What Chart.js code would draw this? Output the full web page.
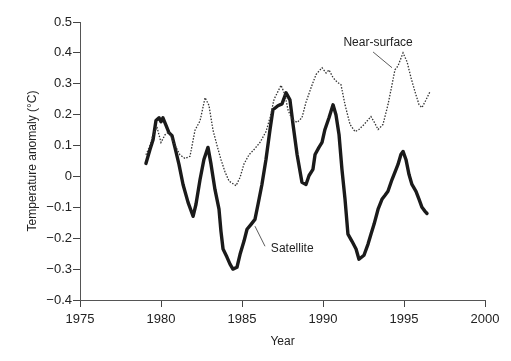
<!DOCTYPE html>
<html>
<head>
<meta charset="utf-8">
<script src="https://cdn.jsdelivr.net/npm/chart.js@4/dist/chart.umd.min.js"></script>
<style>
  html, body { margin: 0; padding: 0; background: #fff; }
  #wrap { width: 511px; height: 361px; }
</style>
</head>
<body>
<div id="wrap"><canvas id="chart"></canvas></div>
<script>
// Satellite (solid) record
const satYears = [1979.07, 1979.32, 1979.51, 1979.69, 1979.88, 1980.0, 1980.12, 1980.31, 1980.49, 1980.68,
  1980.86, 1981.11, 1981.36, 1981.67, 1981.98, 1982.16, 1982.41, 1982.65, 1982.9, 1983.09,
  1983.33, 1983.58, 1983.7, 1983.83, 1984.07, 1984.26, 1984.44, 1984.69, 1984.88, 1985.12,
  1985.31, 1985.56, 1985.8, 1985.99, 1986.23, 1986.48, 1986.73, 1986.91, 1987.22, 1987.47,
  1987.72, 1987.96, 1988.15, 1988.4, 1988.7, 1988.95, 1989.14, 1989.38, 1989.51, 1989.75,
  1989.94, 1990.12, 1990.37, 1990.62, 1990.8, 1990.99, 1991.17, 1991.36, 1991.54, 1991.79,
  1992.04, 1992.22, 1992.53, 1992.78, 1992.96, 1993.15, 1993.4, 1993.64, 1993.83, 1994.01,
  1994.26, 1994.51, 1994.63, 1994.81, 1994.94, 1995.12, 1995.31, 1995.49, 1995.74, 1995.93,
  1996.11, 1996.3, 1996.42];
const satValues = [0.042, 0.087, 0.119, 0.181, 0.19, 0.177, 0.19, 0.165, 0.142, 0.132,
  0.094, 0.039, -0.026, -0.084, -0.129, -0.09, -0.01, 0.055, 0.094, 0.039,
  -0.042, -0.106, -0.177, -0.235, -0.261, -0.284, -0.3, -0.294, -0.252, -0.21,
  -0.171, -0.155, -0.139, -0.09, -0.026, 0.055, 0.152, 0.216, 0.229, 0.235,
  0.271, 0.248, 0.168, 0.071, -0.019, -0.026, 0.003, 0.023, 0.071, 0.094,
  0.11, 0.152, 0.19, 0.232, 0.2, 0.135, 0.023, -0.074, -0.187, -0.21,
  -0.235, -0.268, -0.255, -0.219, -0.187, -0.155, -0.106, -0.074, -0.061, -0.048,
  -0.01, 0.023, 0.039, 0.071, 0.081, 0.055, 0.006, -0.026, -0.048, -0.074,
  -0.1, -0.113, -0.12];

// Near-surface (dotted) record
const nsYears = [1979.07, 1979.32, 1979.51, 1979.75, 1980.0, 1980.25, 1980.49, 1980.68, 1980.93, 1981.17,
  1981.48, 1981.79, 1982.1, 1982.41, 1982.72, 1982.96, 1983.21, 1983.46, 1983.7, 1983.95,
  1984.2, 1984.63, 1984.88, 1985.12, 1985.43, 1985.74, 1986.11, 1986.48, 1986.73, 1986.98,
  1987.41, 1987.65, 1987.84, 1988.09, 1988.4, 1988.7, 1988.95, 1989.26, 1989.57, 1989.94,
  1990.19, 1990.37, 1990.62, 1990.86, 1991.11, 1991.36, 1991.67, 1991.98, 1992.22, 1992.53,
  1992.96, 1993.15, 1993.4, 1993.7, 1994.01, 1994.26, 1994.44, 1994.63, 1994.94, 1995.19,
  1995.43, 1995.68, 1995.93, 1996.11, 1996.36, 1996.6];
const nsValues = [0.07, 0.1, 0.135, 0.16, 0.11, 0.135, 0.145, 0.12, 0.094, 0.07,
  0.058, 0.065, 0.15, 0.18, 0.255, 0.23, 0.15, 0.1, 0.055, 0.015,
  -0.015, -0.03, -0.003, 0.04, 0.07, 0.087, 0.11, 0.145, 0.19, 0.25,
  0.295, 0.265, 0.215, 0.185, 0.175, 0.19, 0.24, 0.287, 0.33, 0.352,
  0.335, 0.345, 0.32, 0.306, 0.297, 0.232, 0.168, 0.145, 0.152, 0.168,
  0.194, 0.177, 0.152, 0.168, 0.232, 0.297, 0.345, 0.358, 0.4, 0.371,
  0.32, 0.274, 0.232, 0.223, 0.248, 0.274];

const xTicks = [1975, 1980, 1985, 1990, 1995, 2000];
const yTicks = [-0.4, -0.3, -0.2, -0.1, 0, 0.1, 0.2, 0.3, 0.4, 0.5];

// labels with leader lines, in data coordinates
const notes = [
  { text: 'Near-surface', x: 1993.4, y: 0.432, from: [1993.09, 0.403], to: [1994.26, 0.352] },
  { text: 'Satellite', x: 1988.1, y: -0.235, from: [1985.8, -0.161], to: [1986.42, -0.226] },
];

const FONT = '"Liberation Sans", Arial, Helvetica, sans-serif';
const INK = '#222';

function pairs(xs, ys) {
  return xs.map((x, i) => ({ x, y: ys[i] }));
}

function fmtY(v) {
  const r = Math.round(v * 10) / 10;
  if (r === 0) return '0';
  return r < 0 ? '\u2212' + Math.abs(r).toFixed(1) : r.toFixed(1);
}

const notesPlugin = {
  id: 'notes',
  afterDatasetsDraw(chart) {
    const { ctx, scales: { x, y } } = chart;
    ctx.save();
    ctx.font = '12px ' + FONT;
    ctx.fillStyle = INK;
    ctx.strokeStyle = '#333';
    ctx.lineWidth = 0.8;
    ctx.textAlign = 'center';
    ctx.textBaseline = 'middle';
    notes.forEach(n => {
      ctx.fillText(n.text, x.getPixelForValue(n.x), y.getPixelForValue(n.y));
      ctx.beginPath();
      ctx.moveTo(x.getPixelForValue(n.from[0]), y.getPixelForValue(n.from[1]));
      ctx.lineTo(x.getPixelForValue(n.to[0]), y.getPixelForValue(n.to[1]));
      ctx.stroke();
    });
    ctx.restore();
  },
};

new Chart(document.getElementById('chart'), {
  type: 'line',
  data: {
    datasets: [
      {
        label: 'Near-surface',
        data: pairs(nsYears, nsValues),
        borderColor: '#333',
        borderWidth: 1.3,
        borderDash: [1.5, 1.5],
        pointRadius: 0,
        tension: 0,
      },
      {
        label: 'Satellite',
        data: pairs(satYears, satValues),
        borderColor: '#1a1a1a',
        borderWidth: 3.4,
        pointRadius: 0,
        tension: 0,
        borderJoinStyle: 'round',
        borderCapStyle: 'round',
      },
    ],
  },
  options: {
    responsive: true,
    maintainAspectRatio: false,
    animation: false,
    layout: { padding: { top: 22, right: 26, left: 25, bottom: 0 } },
    plugins: {
      legend: { display: false },
      tooltip: { enabled: false },
    },
    scales: {
      x: {
        type: 'linear',
        min: 1975,
        max: 2000,
        afterFit: s => { s.height = 61; },
        afterBuildTicks: s => { s.ticks = xTicks.map(v => ({ value: v })); },
        grid: { drawOnChartArea: false, drawTicks: true, tickLength: 7, color: '#444' },
        border: { display: true, color: '#555', width: 1 },
        ticks: { color: INK, font: { family: FONT, size: 13 }, padding: 5, maxRotation: 0, callback: v => String(v) },
        title: { display: true, text: 'Year', color: INK, font: { family: FONT, size: 12 }, padding: { top: 0, bottom: 12 } },
      },
      y: {
        min: -0.4,
        max: 0.5,
        afterFit: s => { s.width = 55; },
        afterBuildTicks: s => { s.ticks = yTicks.map(v => ({ value: v })); },
        grid: { drawOnChartArea: false, drawTicks: true, tickLength: 7, color: '#444' },
        border: { display: true, color: '#555', width: 1 },
        ticks: { color: INK, font: { family: FONT, size: 13 }, padding: 1, callback: v => fmtY(v) },
        title: { display: true, text: 'Temperature anomaly (°C)', color: INK, font: { family: FONT, size: 12 }, padding: { top: 0, bottom: 0 } },
      },
    },
  },
  plugins: [notesPlugin],
});
</script>
</body>
</html>
